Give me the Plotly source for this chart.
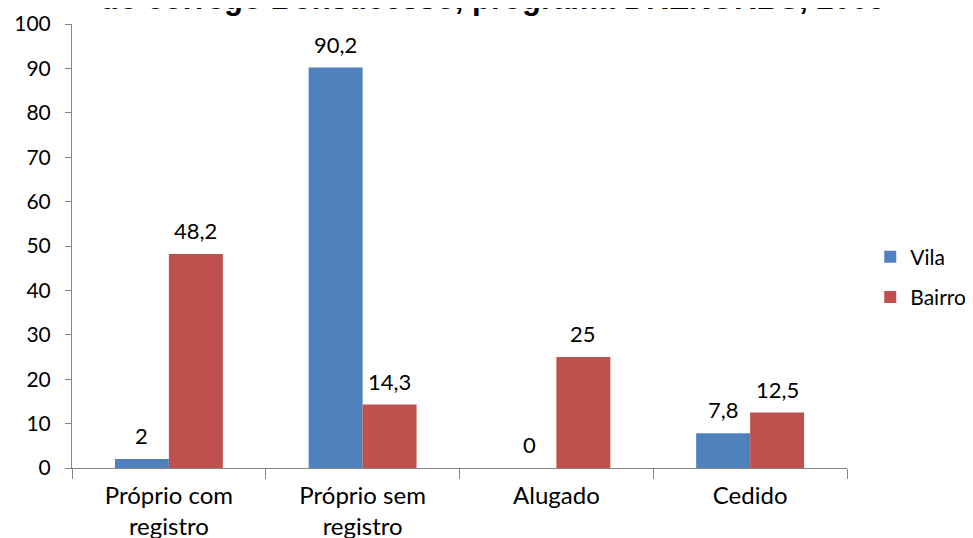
import plotly.graph_objects as go

categories = ["Próprio com<br>registro", "Próprio sem<br>registro", "Alugado", "Cedido"]
vila = [2, 90.2, 0, 7.8]
bairro = [48.2, 14.3, 25, 12.5]
title_text = "do córrego Bonsucesso, programa DRENURBS, 2009"

BLUE = "#4F81BD"
RED = "#C0504D"
AXIS = "#868686"
FONT = "Lato"


def fmt(v):
    # Portuguese decimal comma
    return f"{v:g}".replace(".", ",")


fig = go.Figure()
fig.add_trace(go.Bar(x=categories, y=vila, name="Vila", marker_color=BLUE,
                     marker_line_width=0, legendgroup="a"))
fig.add_trace(go.Bar(x=categories, y=bairro, name="Bairro", marker_color=RED,
                     marker_line_width=0, legendgroup="b"))

# value labels above each bar
annotations = []
for series, shift in ((vila, -27), (bairro, 27)):
    for cat, v in zip(categories, series):
        annotations.append(dict(
            x=cat, y=v, xref="x", yref="y", text=fmt(v), showarrow=False,
            yanchor="bottom", yshift=8, xshift=shift,
            font=dict(family=FONT, size=22, color="#000000"),
        ))

# title is partly cut off by the top edge, as in the source image
annotations.append(dict(
    x=0.543, y=1.0, xref="paper", yref="paper", text=f"<b>{title_text}</b>",
    showarrow=False, yanchor="middle", yshift=26,
    font=dict(family="Liberation Sans, Arial", size=31, color="#000000"),
))

# page body adds an 8px offset, so the figure is 8px smaller and margins shifted
fig.update_layout(
    width=965,
    height=530,
    paper_bgcolor="white",
    plot_bgcolor="white",
    barmode="group",
    bargap=0.443,
    bargroupgap=0,
    margin=dict(l=64, r=126, t=16, b=70, autoexpand=False),
    font=dict(family=FONT, size=20, color="#000000"),
    annotations=annotations,
    showlegend=True,
    legend=dict(
        x=1.030, y=0.430, xanchor="left", yanchor="middle",
        font=dict(family=FONT, size=21, color="#000000"),
        traceorder="grouped", tracegroupgap=10,
        bgcolor="rgba(0,0,0,0)",
    ),
    xaxis=dict(
        showline=True, linecolor=AXIS, linewidth=1, automargin=False,
        ticks="outside", tickson="boundaries", ticklen=10, tickcolor=AXIS,
        showgrid=False, tickfont=dict(family=FONT, size=24),
        ticklabelstandoff=6,
    ),
    yaxis=dict(
        range=[0, 100], dtick=10, showline=True, linecolor=AXIS, linewidth=1,
        automargin=False, ticks="outside", ticklen=6, tickcolor=AXIS,
        showgrid=False, zeroline=False, tickfont=dict(family=FONT, size=21),
        ticklabelstandoff=10,
    ),
)

fig.write_html("out.html")
